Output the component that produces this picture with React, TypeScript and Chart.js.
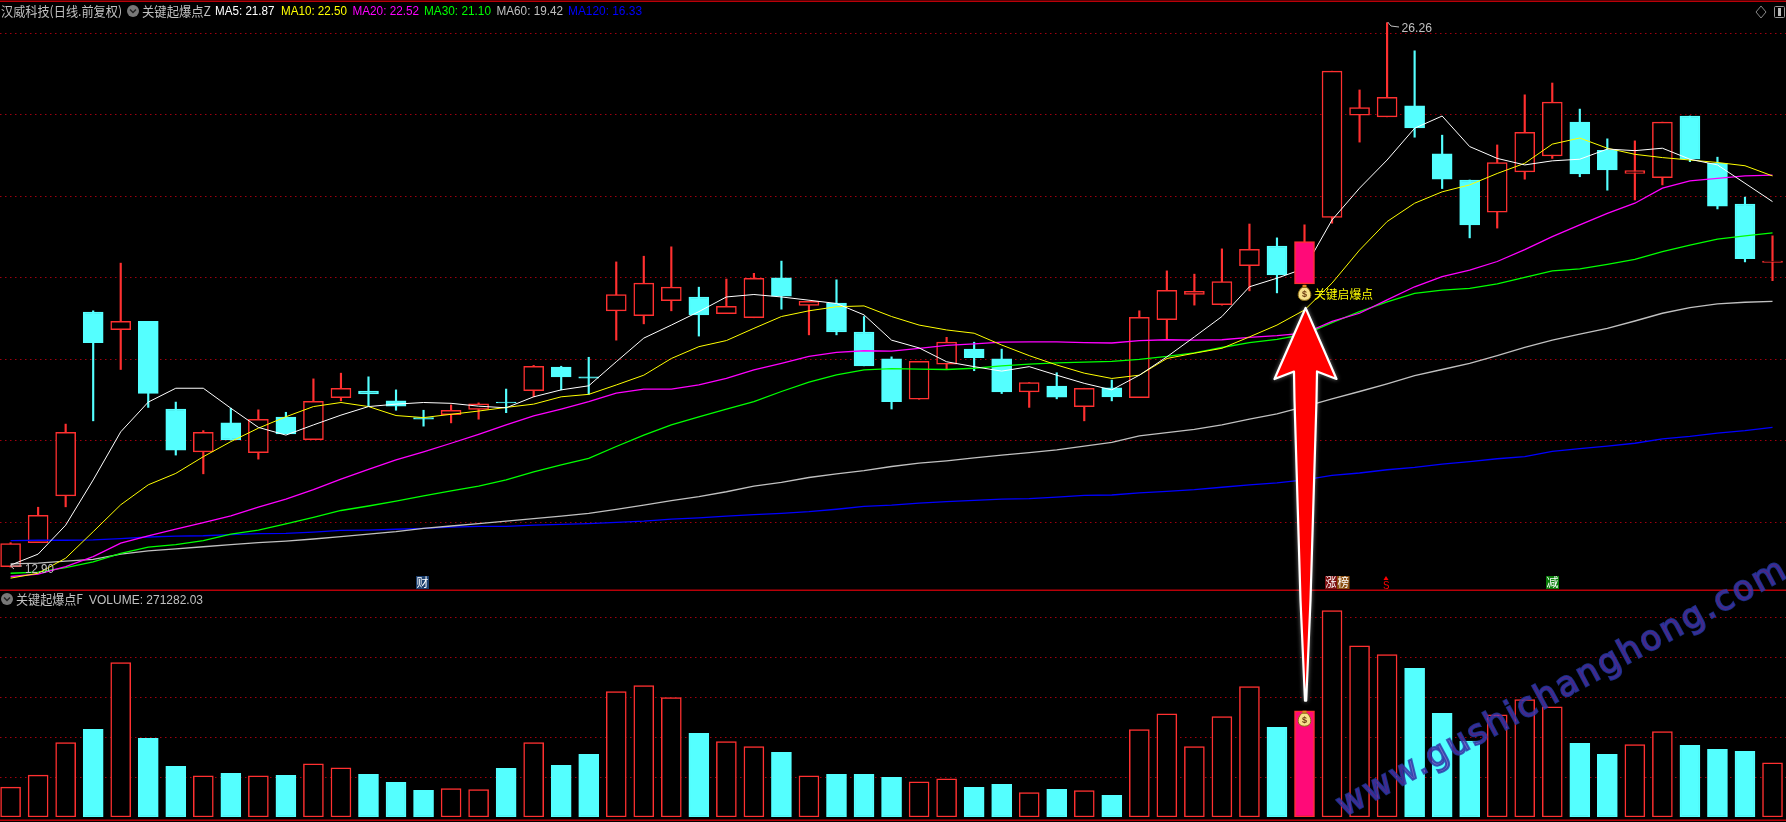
import React, { useEffect, useRef } from "react";
import { Chart, registerables } from "chart.js";

Chart.register(...registerables);

const opens = [12.91,13.50,14.65,19.16,18.73,18.93,16.78,15.73,16.44,15.71,16.58,16.03,17.06,17.22,16.98,16.57,16.64,16.77,16.95,17.23,17.81,17.57,19.19,19.07,19.44,19.53,19.12,19.02,20.00,19.32,19.38,18.67,18.01,17.02,17.88,18.25,18.01,17.20,17.34,16.84,17.30,17.06,18.97,19.59,19.34,20.30,20.78,19.85,21.48,23.99,23.95,24.22,23.04,22.40,21.61,22.60,22.99,23.82,23.13,22.56,22.46,23.97,22.81,21.81,20.38];
const closes = [13.48,14.17,16.21,18.41,18.93,17.16,15.77,16.21,16.02,16.53,16.17,16.97,17.29,17.15,16.85,16.53,16.75,16.91,16.93,17.83,17.57,17.54,19.59,19.87,19.77,19.09,19.30,19.99,19.55,19.42,18.67,17.84,16.96,17.95,18.42,18.04,17.20,17.43,17.07,17.29,17.08,19.03,19.69,19.67,19.91,20.70,20.07,20.89,25.07,24.18,24.43,23.68,22.42,21.30,22.83,23.57,24.31,22.55,22.65,22.63,23.82,22.91,21.76,20.47,20.41];
const highs = [13.50,14.37,16.41,19.19,20.36,18.93,16.95,16.25,16.80,16.76,16.70,17.52,17.66,17.57,17.25,16.75,16.88,16.93,17.27,17.85,17.83,18.05,20.39,20.53,20.76,19.77,19.97,20.11,20.41,19.42,19.95,19.05,18.06,17.95,18.54,18.42,18.25,17.43,17.67,17.29,17.49,19.19,20.17,20.09,20.71,21.32,20.98,21.30,25.07,24.61,26.26,25.57,23.50,22.40,23.26,24.49,24.78,24.14,23.41,23.36,23.82,23.97,22.96,21.98,21.03];
const lows = [12.90,13.50,14.38,16.49,17.75,16.82,15.65,15.19,16.02,15.55,16.17,16.03,16.98,16.85,16.75,16.36,16.44,16.53,16.69,17.08,17.25,17.14,18.47,18.87,19.19,18.57,19.12,19.02,19.23,18.60,18.60,17.84,16.78,17.02,17.76,17.72,17.16,16.82,17.03,16.49,16.98,17.06,18.49,19.33,19.33,19.68,19.63,19.85,21.34,23.33,23.95,23.45,22.19,20.98,21.22,22.42,22.93,22.48,22.15,21.91,22.28,22.85,21.69,20.39,19.93];

const ma5 = [12.95,13.22,13.93,15.04,16.22,16.95,17.29,17.29,16.80,16.33,16.14,16.39,16.63,16.84,16.90,16.94,16.92,16.85,16.81,17.08,17.25,17.35,17.94,18.52,18.84,19.17,19.53,19.59,19.53,19.45,19.37,19.09,18.47,18.28,17.94,17.82,17.71,17.82,17.61,17.41,17.25,17.61,18.06,18.55,19.05,19.78,19.99,20.23,21.42,22.20,22.89,23.67,23.97,23.22,22.93,22.77,22.87,22.91,23.16,23.12,23.18,22.91,22.77,22.32,21.87];
const ma10 = [12.63,12.75,13.12,13.77,14.43,14.92,15.20,15.61,15.98,16.31,16.59,16.84,16.94,16.84,16.62,16.57,16.65,16.73,16.82,16.90,17.08,17.14,17.37,17.61,18.02,18.31,18.46,18.76,19.05,19.19,19.29,19.31,19.05,18.84,18.72,18.64,18.35,18.09,17.86,17.66,17.53,17.61,18.02,18.15,18.27,18.55,18.84,19.21,19.87,20.68,21.38,21.83,22.11,22.28,22.56,22.81,23.28,23.43,23.18,23.03,22.95,22.89,22.83,22.75,22.50];
const ma20 = [12.67,12.73,12.91,13.16,13.49,13.67,13.83,13.99,14.16,14.37,14.57,14.80,15.06,15.30,15.53,15.73,15.94,16.16,16.39,16.61,16.78,16.96,17.17,17.27,17.27,17.37,17.53,17.74,17.90,18.07,18.17,18.21,18.20,18.27,18.34,18.38,18.42,18.43,18.43,18.41,18.40,18.46,18.48,18.47,18.48,18.54,18.58,18.64,18.93,19.13,19.46,19.78,20.03,20.19,20.40,20.69,21.01,21.30,21.58,21.83,22.20,22.38,22.44,22.50,22.52];
const ma30 = [12.75,12.78,12.89,13.03,13.24,13.39,13.45,13.55,13.71,13.81,13.96,14.12,14.29,14.40,14.52,14.65,14.77,14.89,15.04,15.24,15.41,15.57,15.86,16.14,16.39,16.59,16.78,16.96,17.21,17.44,17.62,17.74,17.77,17.76,17.75,17.78,17.84,17.88,17.91,17.93,17.95,18.00,18.07,18.16,18.29,18.41,18.49,18.61,18.90,19.17,19.41,19.62,19.70,19.74,19.85,20.01,20.17,20.22,20.33,20.45,20.64,20.80,20.95,21.03,21.10];
const ma60 = [12.98,13.00,13.05,13.09,13.22,13.30,13.35,13.40,13.45,13.50,13.54,13.59,13.65,13.71,13.77,13.85,13.91,13.97,14.03,14.09,14.15,14.22,14.32,14.42,14.53,14.63,14.75,14.89,14.98,15.10,15.19,15.27,15.37,15.45,15.51,15.58,15.65,15.71,15.78,15.87,15.96,16.12,16.20,16.28,16.39,16.53,16.66,16.84,17.03,17.21,17.40,17.60,17.75,17.90,18.09,18.29,18.47,18.62,18.76,18.94,19.13,19.27,19.36,19.40,19.42];
const ma120 = [13.55,13.56,13.56,13.57,13.60,13.64,13.66,13.67,13.70,13.72,13.73,13.76,13.80,13.81,13.83,13.85,13.88,13.90,13.90,13.93,13.95,13.97,14.00,14.03,14.08,14.11,14.15,14.19,14.22,14.26,14.32,14.39,14.42,14.47,14.51,14.54,14.57,14.58,14.62,14.66,14.67,14.72,14.76,14.80,14.86,14.92,14.97,15.04,15.15,15.21,15.29,15.35,15.43,15.49,15.56,15.61,15.74,15.81,15.87,15.94,16.05,16.11,16.19,16.25,16.33];

const volumes = [150000,210000,373000,440000,774000,395000,254000,207000,219000,207000,209000,267000,247000,214000,174000,134000,142000,137000,244000,373000,259000,314000,629000,659000,599000,420000,378000,353000,324000,207000,214000,214000,199000,177000,192000,149000,164000,122000,139000,132000,109000,438000,518000,353000,503000,654000,450000,533000,1035000,859000,814000,746000,520000,381000,513000,589000,553000,370000,314000,363000,428000,359000,339000,329000,271282];

const priceTicks = [14, 16, 18, 20, 22, 24, 26];
const volumeTicks = [200000, 400000, 600000, 800000, 1000000];
const keyBar = 47;

const RED = "#ff3030";
const CYAN = "#54ffff";
const PINK = "#ff0a78";
const GRID = "#a0000f";
const FRAME = "#b80008";
const GRAY = "#c0c0c0";
const CJK = '"Noto Sans CJK SC", sans-serif';
const LATIN = '"Liberation Sans", sans-serif';

const X_MIN = -0.385;
const X_MAX = 64.49;

const isUp = (i: number) => closes[i] >= opens[i];

function moneyBag(ctx: CanvasRenderingContext2D, x: number, y: number) {
  ctx.save();
  ctx.fillStyle = "#e08a20";
  ctx.fillRect(x - 2, y, 4, 2.5);
  ctx.beginPath();
  ctx.moveTo(x - 2.5, y + 2.5);
  ctx.bezierCurveTo(x - 8, y + 7, x - 8, y + 15.5, x, y + 15.5);
  ctx.bezierCurveTo(x + 8, y + 15.5, x + 8, y + 7, x + 2.5, y + 2.5);
  ctx.closePath();
  ctx.fillStyle = "#f6e08a";
  ctx.fill();
  ctx.strokeStyle = "#8a6a10";
  ctx.lineWidth = 1;
  ctx.stroke();
  ctx.fillStyle = "#6a3a10";
  ctx.font = `bold 9px ${LATIN}`;
  ctx.textAlign = "center";
  ctx.textBaseline = "middle";
  ctx.fillText("$", x, y + 9.5);
  ctx.restore();
}

function makeGrid(ticks: number[]) {
  return {
    display: true,
    border: { display: false, dash: [1.5, 3.5] },
    grid: { color: GRID, lineWidth: 1, drawTicks: false },
    ticks: { display: false },
    afterBuildTicks: (axis: any) => {
      axis.ticks = ticks.map((value) => ({ value }));
    },
  };
}

const xScale = {
  type: "linear" as const,
  display: false,
  min: X_MIN,
  max: X_MAX,
  offset: false,
};

function lineSet(values: number[], color: string, order: number, width: number) {
  return {
    type: "line" as const,
    data: values.map((y, x) => ({ x, y })),
    borderColor: color,
    borderWidth: width,
    pointRadius: 0,
    tension: 0,
    order,
  };
}

function PriceChart() {
  const ref = useRef<HTMLCanvasElement>(null);
  useEffect(() => {
    const index = opens.map((_, i) => i);
    const plain = index.filter((i) => i !== keyBar);
    const chart = new Chart(ref.current!, {
      type: "bar",
      data: {
        datasets: [
          {
            data: index.map((x) => ({ x, y: [lows[x], highs[x]] })),
            backgroundColor: index.map((i) => (isUp(i) ? RED : CYAN)),
            borderWidth: 0,
            barThickness: 1.5,
            grouped: false,
            order: 30,
          },
          {
            data: plain.map((x) => ({ x, y: [opens[x], closes[x]] })),
            backgroundColor: plain.map((i) => (isUp(i) ? "#000000" : CYAN)),
            borderColor: plain.map((i) => (isUp(i) ? RED : CYAN)),
            borderWidth: 1.5,
            borderSkipped: false,
            barThickness: 20,
            grouped: false,
            order: 20,
          },
          {
            data: [{ x: keyBar, y: [opens[keyBar], closes[keyBar]] }],
            backgroundColor: PINK,
            borderColor: RED,
            borderWidth: 1.5,
            borderSkipped: false,
            barThickness: 20,
            grouped: false,
            order: 0,
          },
          lineSet(ma120, "#0000ff", 6, 1.3),
          lineSet(ma60, GRAY, 5, 1.3),
          lineSet(ma30, "#00ff00", 4, 1.3),
          lineSet(ma20, "#ff00ff", 3, 1.3),
          lineSet(ma10, "#ffff00", 2, 1),
          lineSet(ma5, "#ffffff", 1, 1),
        ] as any,
      },
      options: {
        animation: false,
        responsive: false,
        layout: { padding: 0 },
        plugins: { legend: { display: false }, tooltip: { enabled: false } },
        scales: {
          x: xScale,
          y: { min: 12.339, max: 26.817, ...makeGrid(priceTicks) },
        },
      } as any,
      plugins: [
        {
          id: "keyBag",
          afterDatasetsDraw(c: any) {
            moneyBag(c.ctx, c.scales.x.getPixelForValue(keyBar), c.scales.y.getPixelForValue(lows[keyBar]) + 1);
          },
        },
      ],
    });
    return () => chart.destroy();
  }, []);
  return <canvas ref={ref} width={1786} height={590} style={{ position: "absolute", left: 0, top: 0, display: "block" }} />;
}

function VolumeChart() {
  const ref = useRef<HTMLCanvasElement>(null);
  useEffect(() => {
    const index = volumes.map((_, i) => i);
    const plain = index.filter((i) => i !== keyBar);
    const chart = new Chart(ref.current!, {
      type: "bar",
      data: {
        datasets: [
          {
            data: plain.map((x) => ({ x, y: volumes[x] })),
            backgroundColor: plain.map((i) => (isUp(i) ? "#000000" : CYAN)),
            borderColor: plain.map((i) => (isUp(i) ? RED : CYAN)),
            borderWidth: 1.5,
            borderSkipped: false,
            barThickness: 20,
            grouped: false,
          },
          {
            data: [{ x: keyBar, y: volumes[keyBar] }],
            backgroundColor: PINK,
            borderColor: RED,
            borderWidth: 1.5,
            borderSkipped: false,
            barThickness: 20,
            grouped: false,
          },
        ] as any,
      },
      options: {
        animation: false,
        responsive: false,
        layout: { padding: { bottom: 5 } },
        plugins: { legend: { display: false }, tooltip: { enabled: false } },
        scales: {
          x: xScale,
          y: { min: 0, max: 1138400, ...makeGrid(volumeTicks) },
        },
      } as any,
      plugins: [
        {
          id: "keyBagVolume",
          afterDatasetsDraw(c: any) {
            moneyBag(c.ctx, c.scales.x.getPixelForValue(keyBar), c.scales.y.getPixelForValue(volumes[keyBar]));
          },
        },
      ],
    });
    return () => chart.destroy();
  }, []);
  return <canvas ref={ref} width={1786} height={232} style={{ position: "absolute", left: 0, top: 590, display: "block" }} />;
}

function Label(p: { x: number; y: number; w: number; color: string; size?: number; cjk?: boolean; children: string }) {
  return (
    <text
      x={p.x}
      y={p.y}
      textLength={p.w}
      lengthAdjust="spacingAndGlyphs"
      fill={p.color}
      fontSize={p.size ?? 12}
      fontFamily={p.cjk ? CJK : LATIN}
    >
      {p.children}
    </text>
  );
}

function Chevron({ x, y }: { x: number; y: number }) {
  return (
    <g>
      <circle cx={x} cy={y} r={6} fill="#787878" />
      <path d={`M${x - 3} ${y - 1.5} L${x} ${y + 1.5} L${x + 3} ${y - 1.5}`} stroke="#222" strokeWidth={1.5} fill="none" />
    </g>
  );
}

function Flag(p: { x: number; w: number; bg: string; children: string }) {
  return (
    <g>
      <rect x={p.x} y={576} width={p.w} height={13} fill={p.bg} />
      <Label x={p.x + 0.5} y={587} w={p.w - 1} color="#ffffff" cjk>
        {p.children}
      </Label>
    </g>
  );
}

function Overlay() {
  return (
    <svg width={1786} height={822} style={{ position: "absolute", left: 0, top: 0 }}>
      <rect x={0} y={0.5} width={1786} height={1.5} fill={FRAME} />
      <rect x={0} y={589.5} width={1786} height={1.5} fill={FRAME} />
      <rect x={0} y={819.5} width={1786} height={1.5} fill={FRAME} />

      <Label x={1} y={15.5} w={121} color={GRAY} size={13} cjk>汉威科技(日线.前复权)</Label>
      <Chevron x={133} y={11} />
      <Label x={142} y={15.5} w={69} color={GRAY} size={13} cjk>关键起爆点Z</Label>
      <Label x={215} y={15} w={59.5} color="#ffffff">MA5: 21.87</Label>
      <Label x={281} y={15} w={66} color="#ffff00">MA10: 22.50</Label>
      <Label x={352.5} y={15} w={66.5} color="#ff00ff">MA20: 22.52</Label>
      <Label x={424} y={15} w={67} color="#00ff00">MA30: 21.10</Label>
      <Label x={496.5} y={15} w={66.5} color={GRAY}>MA60: 19.42</Label>
      <Label x={568} y={15} w={74} color="#0000ff">MA120: 16.33</Label>

      <path d="M1761 6 L1766 12 L1761 18 L1756 12 Z" stroke="#888" fill="none" />
      <rect x={1774.5} y={6.5} width={10} height={11} rx={1} stroke="#999" fill="none" />
      <rect x={1778} y={8} width={3} height={8} fill="#bbb" />

      <path d="M1387.7 22 L1391 26 L1399 27" stroke={GRAY} fill="none" />
      <Label x={1401.5} y={32} w={30.5} color={GRAY}>26.26</Label>
      <path d="M14 563 L10.6 566 L14 569 M10.6 566 L22 566" stroke={GRAY} fill="none" />
      <Label x={25} y={573} w={29} color={GRAY}>12.90</Label>

      <Label x={1314} y={299} w={59} color="#ffff00" cjk>关键启爆点</Label>

      <Chevron x={7} y={599} />
      <Label x={16} y={604} w={67} color={GRAY} size={13} cjk>关键起爆点F</Label>
      <Label x={89} y={604} w={114} color={GRAY}>VOLUME: 271282.03</Label>

      <Flag x={416} w={13} bg="#1c3f6e">财</Flag>
      <Flag x={1325} w={12} bg="#7c0f12">涨</Flag>
      <Flag x={1337} w={12.5} bg="#8a4e10">榜</Flag>
      <Flag x={1546} w={13} bg="#0a7d0a">减</Flag>
      <path d="M1386 576 L1388.5 580 L1383.5 580 Z" fill="#ff0000" />
      <Label x={1383} y={589} w={6.5} color="#ff0000" size={11}>S</Label>

      <text
        transform="translate(1344 817) rotate(-28.4)"
        textLength={505}
        lengthAdjust="spacing"
        fontFamily='"DejaVu Sans", sans-serif'
        fontSize={34}
        fill="#7a2fa8"
        fillOpacity={0.7}
        stroke="#2838a8"
        strokeWidth={2}
        strokeOpacity={0.8}
      >
        www.gushichanghong.com
      </text>

      <path
        d="M1305.6 308 L1336.5 379 L1317 371.5 L1316.5 400 L1310.5 600 L1306.2 700.7 L1305 700.7 L1300.5 600 L1294.5 400 L1294 371.5 L1274.5 379 Z"
        fill="#ff0000"
        stroke="#ffffff"
        strokeWidth={2.2}
        strokeLinejoin="round"
        style={{ filter: "drop-shadow(0 0 2px rgba(255,255,255,0.45))" }}
      />
    </svg>
  );
}

export default function App() {
  return (
    <div style={{ position: "relative", width: 1786, height: 822, background: "#000", overflow: "hidden" }}>
      <style>{`html,body{margin:0;padding:0;background:#000;overflow:hidden}`}</style>
      <PriceChart />
      <VolumeChart />
      <Overlay />
    </div>
  );
}
